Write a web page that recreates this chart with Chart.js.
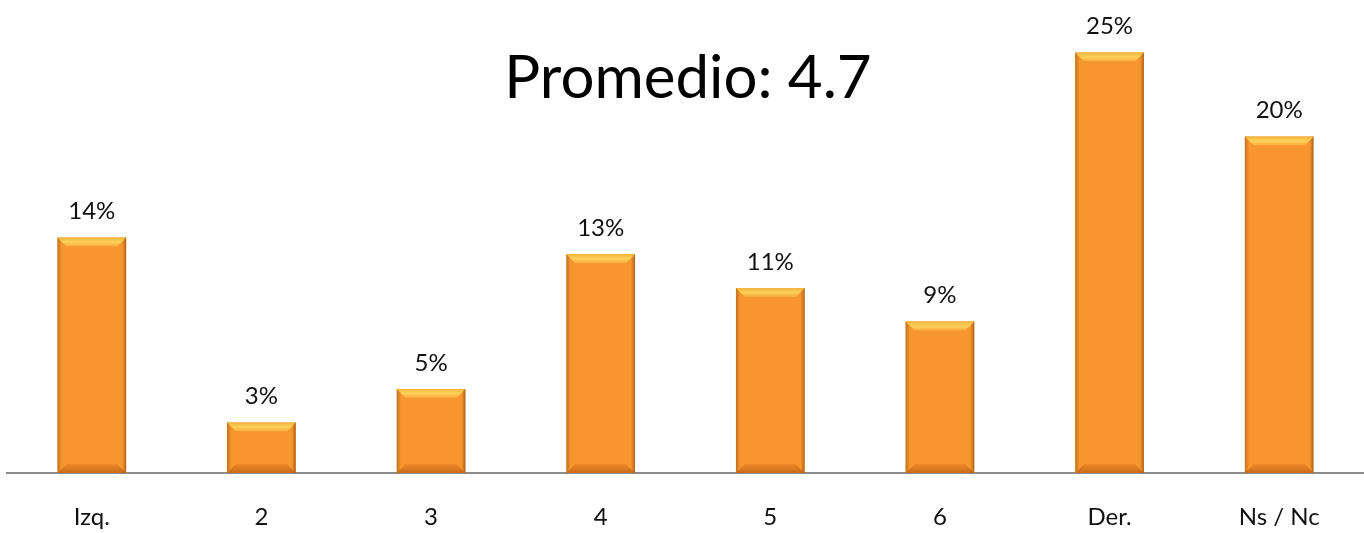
<html>
<head>
<script src="https://cdn.jsdelivr.net/npm/chart.js"></script>
<style>
  html, body { margin: 0; padding: 0; background: #fff; }
  #wrap { width: 1364px; height: 533px; }
</style>
</head>
<body>
<div id="wrap"><canvas id="myChart"></canvas></div>
<script>
const categories = ['Izq.', '2', '3', '4', '5', '6', 'Der.', 'Ns / Nc'];
const percentages = [14, 3, 5, 13, 11, 9, 25, 20];
const titleText = 'Promedio: 4.7';

const FONT = 'Lato, "Open Sans", sans-serif';

// bevel look on each bar + value labels + title, drawn after the bars
const barDecor = {
  id: 'barDecor',
  afterDatasetsDraw(chart) {
    const ctx = chart.ctx;
    const meta = chart.getDatasetMeta(0);
    meta.data.forEach((bar, i) => {
      const left = bar.x - bar.width / 2;
      const right = bar.x + bar.width / 2;
      const top = bar.y;
      const bottom = bar.base;
      const w = bar.width;
      ctx.save();
      // side shading
      let g = ctx.createLinearGradient(left, 0, right, 0);
      g.addColorStop(0, 'rgba(150,80,10,0.55)');
      g.addColorStop(0.06, 'rgba(150,80,10,0.0)');
      g.addColorStop(0.94, 'rgba(150,80,10,0.0)');
      g.addColorStop(1, 'rgba(120,60,10,0.6)');
      ctx.fillStyle = g;
      ctx.fillRect(left, top, w, bottom - top);
      // top bevel
      const bv = 9;
      g = ctx.createLinearGradient(0, top, 0, top + bv);
      g.addColorStop(0, '#f2b23c');
      g.addColorStop(0.5, '#fdd35a');
      g.addColorStop(1, '#f9a838');
      ctx.fillStyle = g;
      ctx.beginPath();
      ctx.moveTo(left, top);
      ctx.lineTo(right, top);
      ctx.lineTo(right - bv, top + bv);
      ctx.lineTo(left + bv, top + bv);
      ctx.closePath();
      ctx.fill();
      // bottom bevel
      g = ctx.createLinearGradient(0, bottom - bv, 0, bottom);
      g.addColorStop(0, 'rgba(205,100,20,0.25)');
      g.addColorStop(1, 'rgba(190,95,20,0.8)');
      ctx.fillStyle = g;
      ctx.beginPath();
      ctx.moveTo(left + bv, bottom - bv);
      ctx.lineTo(right - bv, bottom - bv);
      ctx.lineTo(right, bottom);
      ctx.lineTo(left, bottom);
      ctx.closePath();
      ctx.fill();
      // value label
      ctx.fillStyle = '#111';
      ctx.font = '24px ' + FONT;
      ctx.textAlign = 'center';
      ctx.textBaseline = 'middle';
      ctx.fillText(percentages[i] + '%', bar.x, top - 26);
      ctx.restore();
    });
    // title overlaid in the plot
    ctx.save();
    ctx.fillStyle = '#000';
    ctx.font = '60px ' + FONT;
    ctx.textAlign = 'center';
    ctx.textBaseline = 'middle';
    ctx.fillText(titleText, 688, 79);
    ctx.restore();
  }
};

const data = {
  labels: categories,
  datasets: [{
    data: percentages,
    backgroundColor: '#f7962e',
    borderWidth: 0,
    barPercentage: 0.405,
    categoryPercentage: 1
  }]
};

const options = {
  animation: false,
  responsive: true,
  maintainAspectRatio: false,
  layout: { padding: { top: 2, left: 7, right: 0, bottom: 2 } },
  scales: {
    x: {
      grid: { display: false, drawTicks: false },
      border: { display: true, color: '#8c8c8c', width: 2 },
      ticks: { color: '#111', font: { family: FONT, size: 24 }, padding: 30 },
      afterFit(scale) { scale.height = 58; }
    },
    y: {
      display: false,
      min: 0,
      max: 28
    }
  },
  plugins: {
    legend: { display: false },
    tooltip: { enabled: false }
  }
};

new Chart(document.getElementById('myChart'), {
  type: 'bar',
  data,
  options,
  plugins: [barDecor]
});
</script>
</body>
</html>
